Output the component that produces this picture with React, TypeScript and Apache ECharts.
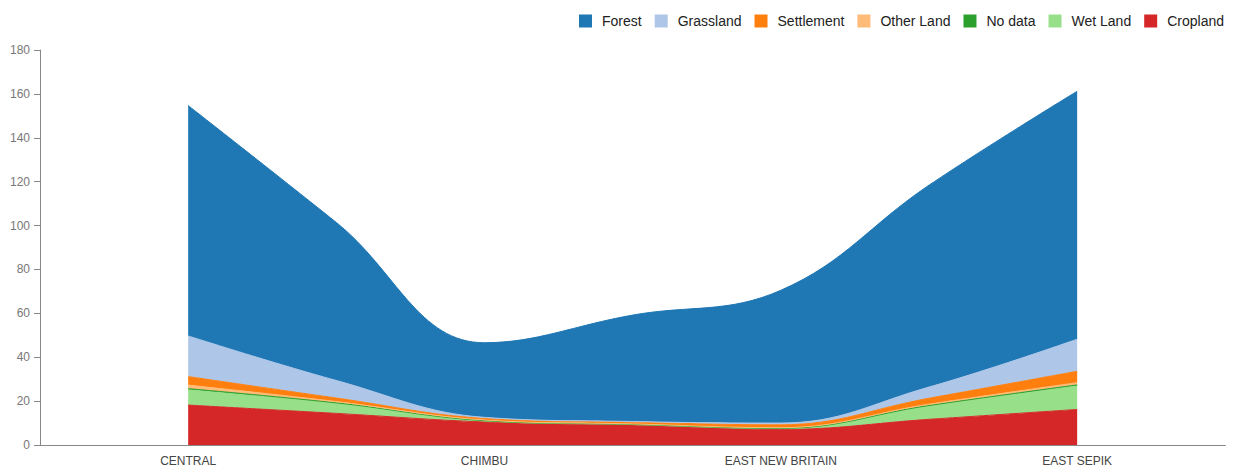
import React, { useEffect, useRef } from "react";
import * as echarts from "echarts";

// provinces shown on the axis; between each pair there is one extra curve point
const provinces = ["CENTRAL", "CHIMBU", "EAST NEW BRITAIN", "EAST SEPIK"];

// values at: CENTRAL, mid, CHIMBU, mid, EAST NEW BRITAIN, mid, EAST SEPIK
const cropland = [18.2, 14.4, 10.5, 9.1, 7.1, 11.7, 16.2];
const wetLand = [7.0, 4.5, 0.5, 0.2, 0.4, 6.0, 10.8];
const noData = [0.5, 0.3, 0.1, 0.1, 0.1, 0.3, 0.4];
const otherLand = [1.6, 0.6, 0.3, 0.2, 0.3, 0.6, 1.0];
const settlement = [3.9, 1.6, 0.7, 0.8, 1.3, 2.7, 5.2];
const grassland = [18.5, 8.0, 0.5, 0.3, 0.8, 5.1, 14.6];
const forest = [105.0, 72.0, 34.0, 48.5, 60.5, 92.0, 113.0];

const legendOrder = ["Forest", "Grassland", "Settlement", "Other Land", "No data", "Wet Land", "Cropland"];

// bottom-to-top stacking order
const stackSeries: { name: string; values: number[]; color: string }[] = [
  { name: "Cropland", values: cropland, color: "#d62728" },
  { name: "Wet Land", values: wetLand, color: "#98df8a" },
  { name: "No data", values: noData, color: "#2ca02c" },
  { name: "Other Land", values: otherLand, color: "#ffbb78" },
  { name: "Settlement", values: settlement, color: "#ff7f0e" },
  { name: "Grassland", values: grassland, color: "#aec7e8" },
  { name: "Forest", values: forest, color: "#1f77b4" },
];

// axis slots: padding, CENTRAL, mid, CHIMBU, mid, EAST NEW BRITAIN, mid, EAST SEPIK, padding
const axisCategories: string[] = [""];
provinces.forEach((p, i) => {
  axisCategories.push(p);
  if (i < provinces.length - 1) axisCategories.push(" ".repeat(i + 1));
});
axisCategories.push("    ");

export default function App() {
  const ref = useRef<HTMLDivElement>(null);
  useEffect(() => {
    document.body.style.margin = "0";
    if (!ref.current) return;
    const chart = echarts.init(ref.current, undefined, { renderer: "svg" });
    const font = "Arial, 'Liberation Sans', sans-serif";
    chart.setOption({
      animation: false,
      legend: {
        data: legendOrder,
        top: 9,
        right: 6,
        icon: "rect",
        itemWidth: 13,
        itemHeight: 13,
        itemGap: 13,
        textStyle: { fontFamily: font, fontSize: 14, color: "#222", padding: [0, 0, 0, 5] },
      },
      grid: { left: 40, right: 5, top: 50, bottom: 26 },
      xAxis: {
        type: "category",
        data: axisCategories,
        boundaryGap: false,
        axisLine: { show: true, lineStyle: { color: "#888", width: 1 } },
        axisTick: { show: false },
        splitLine: { show: false },
        axisLabel: {
          interval: 0,
          color: "#444",
          fontFamily: font,
          fontSize: 12,
          margin: 10,
        },
      },
      yAxis: {
        type: "value",
        min: 0,
        max: 180,
        interval: 20,
        axisLine: { show: true, lineStyle: { color: "#888", width: 1 } },
        axisTick: { show: true, length: 6, lineStyle: { color: "#888" } },
        splitLine: { show: false },
        axisLabel: { color: "#777", fontFamily: font, fontSize: 12, margin: 10 },
      },
      series: stackSeries.map((s) => ({
        name: s.name,
        type: "line",
        stack: "total",
        smooth: 0.4,
        symbol: "none",
        itemStyle: { color: s.color },
        lineStyle: { color: s.color, width: 1 },
        areaStyle: { color: s.color, opacity: 1 },
        data: ["-", ...s.values, "-"],
      })),
    });
    return () => chart.dispose();
  }, []);
  return <div ref={ref} style={{ position: "absolute", left: 0, top: 0, width: 1235, height: 471 }} />;
}
